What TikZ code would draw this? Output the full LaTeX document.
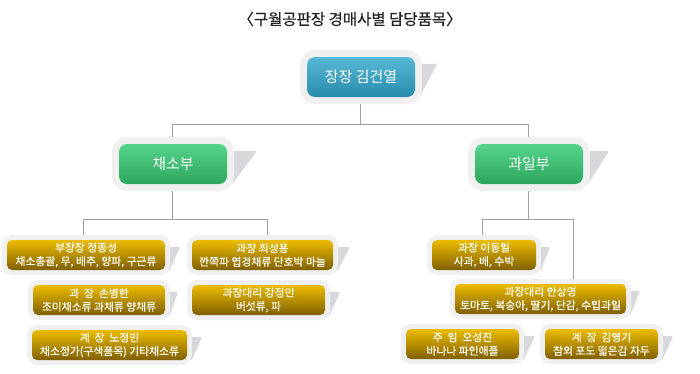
\documentclass[tikz,border=0pt]{standalone}
\usepackage{fontspec}
\newfontfamily\kr{Noto Sans CJK KR}
\newfontfamily\krm[FakeBold=0.5]{Noto Sans CJK KR}
\usetikzlibrary{backgrounds}
\definecolor{halo}{RGB}{240,240,240}
\definecolor{tabc}{RGB}{216,216,220}
\definecolor{linec}{RGB}{160,160,160}
\definecolor{bluetop}{RGB}{88,184,214}
\definecolor{bluebot}{RGB}{40,140,172}
\definecolor{greentop}{RGB}{86,212,140}
\definecolor{greenbot}{RGB}{44,166,92}
\definecolor{goldtop}{RGB}{236,188,0}
\definecolor{goldbot}{RGB}{128,96,0}
\definecolor{titlec}{RGB}{34,34,34}
\tikzset{
  bigbox/.style={rounded corners=8pt, inner sep=0pt, text=white,
    font=\kr\fontsize{15}{18}\selectfont,
    preaction={draw=halo, line width=14pt}},
  bluebox/.style={bigbox, top color=bluetop, bottom color=bluebot},
  greenbox/.style={bigbox, top color=greentop, bottom color=greenbot},
  goldbox/.style={rounded corners=5pt, inner sep=0pt, text=white, align=center,
    font=\krm\fontsize{10.8}{13.5}\selectfont,
    top color=goldtop, bottom color=goldbot,
    preaction={draw=halo, line width=10pt}},
  conn/.style={draw=linec, line width=0.9pt},
}
% #1 name, #2 style, #3 x, #4 y, #5 width, #6 height, #7 tab length, #8 text
\newcommand\obox[8]{%
  \node[#2, minimum width=#5pt, minimum height=#6pt] (#1) at (#3,#4) {#8};
  \begin{pgfonlayer}{background}
    \fill[tabc, rounded corners=2pt] ([yshift=-7pt]#1.north east) -- ++(#7,0)
      -- ([xshift=4pt,yshift=-1pt]#1.south east) -- ([yshift=-1pt]#1.south east) -- cycle;
  \end{pgfonlayer}}
\begin{document}
\begin{tikzpicture}[x=1pt,y=-1pt]
\useasboundingbox (0,0) rectangle (700,373);
\node[text=titlec, font=\krm\fontsize{15.5}{18}\selectfont] (title) at (350,19) {〈구월공판장 경매사별 담당품목〉};
\obox{top}{bluebox}{361}{77}{108}{40}{22}{장장 김건열}
\obox{veg}{greenbox}{173}{164}{108}{40}{30}{채소부}
\obox{fruit}{greenbox}{529}{164}{108}{40}{26}{과일부}
\obox{b1}{goldbox}{86}{255}{158}{30}{15}{부장장 정종성\\채소총괄, 무, 배추, 양파, 구근류}
\obox{b2}{goldbox}{262.5}{255}{141}{30}{17}{과장 최성용\\깐쪽파 엽경채류 단호박 마늘}
\obox{b3}{goldbox}{99}{300}{132}{30}{13}{과\ \ 장\ \ 손병한\\조미채소류 과채류 양채류}
\obox{b4}{goldbox}{258.5}{300}{133}{30}{15}{과장대리 강정민\\버섯류, 파}
\obox{b5}{goldbox}{109.5}{345}{155}{30}{15}{계\ \ 장\ \ 노정민\\채소정가(구색품목) 기타채소류}
\obox{f1}{goldbox}{484}{255}{104}{30}{14}{과장 이동일\\사과, 배, 수박}
\obox{f2}{goldbox}{540.5}{299}{171}{30}{14}{과장대리 안상명\\토마토, 복숭아, 딸기, 단감, 수입과일}
\obox{f3}{goldbox}{462.5}{344}{113}{30}{16}{주\ \ 임\ \ 오성진\\바나나 파인애플}
\obox{f4}{goldbox}{601.5}{344}{113}{30}{15}{계\ \ 장\ \ 김영기\\참외 포도 떫은감 자두}
\begin{pgfonlayer}{background}
\draw[conn] ([xshift=-1pt]top.south) -- ++(0,27) -| ([xshift=-1pt]veg.north);
\draw[conn] ([xshift=-1pt]top.south) -- ++(0,27) -| ([xshift=-1pt]fruit.north);
\draw[conn] ([xshift=-1pt]veg.south) -- ++(0,35) -| ([xshift=-3pt]b1.north);
\draw[conn] ([xshift=-1pt]veg.south) -- ++(0,35) -| ([xshift=4.5pt]b2.north);
\draw[conn] ([xshift=-1pt]fruit.south) -- ++(0,35) -| ([xshift=-2pt]f1.north);
\draw[conn] ([xshift=-1pt]fruit.south) -- ++(0,35) -| ([xshift=32.5pt]f2.north);
\end{pgfonlayer}
\end{tikzpicture}
\end{document}
